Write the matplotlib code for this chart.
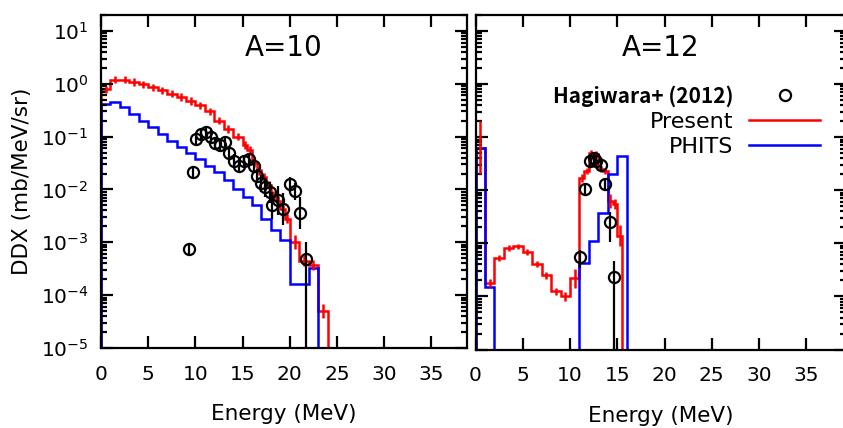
import numpy as np
import matplotlib.pyplot as plt
from matplotlib.ticker import LogLocator, NullFormatter, MultipleLocator
from matplotlib.lines import Line2D

# ---- A=10 ----
# present calculation (histogram, bin edges in MeV)
red10_edges = [0, 1, 2, 3, 4, 5, 6, 7, 8, 9, 10, 11, 12, 13, 14, 15,
               15.5, 16, 16.5, 17, 17.5, 18, 18.5, 19, 19.5, 20, 21, 22, 23, 24]
red10 = [0.78, 1.2, 1.2, 1.08, 0.97, 0.86, 0.75, 0.65, 0.56, 0.47, 0.39, 0.3,
         0.2, 0.14, 0.1, 0.07, 0.055, 0.032, 0.023, 0.017, 0.012, 0.0075,
         0.006, 0.0042, 0.0028, 0.001, 4.5e-4, 3.7e-4, 5e-5]
red10_err = [0.07] * 15 + [0.08] * 6 + [0.09] * 4 + [0.13, 0.11, 0.09, 0.14]

# PHITS
blue10_edges = list(range(0, 24))
blue10 = [0.41, 0.46, 0.36, 0.27, 0.2, 0.15, 0.11, 0.084, 0.063, 0.05, 0.038,
          0.028, 0.021, 0.015, 0.01, 0.0071, 0.005, 0.0028, 0.0017, 0.0011,
          1.6e-4, 1.6e-4, 3.3e-4]

# Hagiwara+ (2012)
hag10_e = [9.3, 9.7, 10.1, 10.6, 11.1, 11.6, 12.1, 12.6, 13.1, 13.6, 14.1,
           14.6, 15.2, 15.7, 16.2, 16.5, 16.9, 17.4, 17.9, 18.1, 18.8, 19.3,
           20.0, 20.5, 21.1, 21.7]
hag10 = [7.5e-4, 0.021, 0.09, 0.11, 0.12, 0.1, 0.075, 0.068, 0.078, 0.05,
         0.035, 0.028, 0.034, 0.037, 0.028, 0.018, 0.013, 0.011, 0.0089, 0.005,
         0.0062, 0.0043, 0.0125, 0.0092, 0.0036, 4.8e-4]
hag10_lo = [0.12, 0.12] + [0.12] * 12 + [0.13, 0.14, 0.16, 0.18, 0.2, 0.25,
                                         0.28, 0.3, 0.14, 0.16, 0.3, 3.0]
hag10_hi = [0.12, 0.12] + [0.12] * 12 + [0.13, 0.14, 0.16, 0.18, 0.2, 0.25,
                                         0.28, 0.3, 0.14, 0.16, 0.3, 0.33]

# ---- A=12 ----
red12_edges = [0, 1, 2, 3, 4, 5, 6, 7, 8, 9, 10, 11,
               11.5, 12, 12.5, 13, 13.5, 14, 14.5, 15, 15.5]
red12 = [0.063, 1.8e-4, 5.3e-4, 8.2e-4, 8.8e-4, 6.9e-4, 4.1e-4, 2.5e-4,
         1.25e-4, 1e-4, 2.2e-4, 0.017, 0.023, 0.05, 0.048, 0.025, 0.023,
         0.0062, 0.0055, 0.0014]
red12_err = [0.5, 0.07, 0.06, 0.05, 0.05, 0.05, 0.06, 0.07, 0.07, 0.08, 0.18,
             0.07, 0.06, 0.05, 0.05, 0.06, 0.06, 0.13, 0.1, 0.19]

blue12_edges = [0, 1, 2, 11, 12, 13, 14, 15, 16]
blue12 = [0.063, 1.5e-4, 0, 4.3e-4, 1.1e-3, 0.0037, 0.02, 0.044]

hag12_e = [11.1, 11.6, 12.1, 12.5, 12.8, 13.3, 13.7, 14.2, 14.7]
hag12 = [5.5e-4, 0.0105, 0.035, 0.04, 0.036, 0.03, 0.013, 0.0025, 2.3e-4]
hag12_lo = [0.21, 0.12, 0.11, 0.11, 0.11, 0.11, 0.12, 0.38, 3.0]
hag12_hi = [0.13, 0.12, 0.11, 0.11, 0.11, 0.11, 0.12, 0.19, 0.31]


def dec_err(y, lo, hi):
    # error half-lengths given in decades -> absolute yerr
    y = np.asarray(y, dtype=float)
    return [y - y * 10.0 ** (-np.asarray(lo)), y * 10.0 ** np.asarray(hi) - y]


def centers(edges):
    e = np.asarray(edges, dtype=float)
    return 0.5 * (e[:-1] + e[1:])


fig = plt.figure(figsize=(8.43, 4.28), dpi=100)
ax1 = fig.add_axes([101 / 843, 80 / 428, 366 / 843, 333 / 428])
ax2 = fig.add_axes([475.5 / 843, 78.5 / 428, 370 / 843, 334.5 / 428])

lw = 1.8
ms = 8

# A=10 panel
ax1.stairs(red10, red10_edges, baseline=0, color='red', lw=lw)
ax1.errorbar(centers(red10_edges), red10, yerr=dec_err(red10, red10_err, red10_err),
             fmt='none', ecolor='red', elinewidth=lw, capsize=0)
ax1.stairs(blue10, blue10_edges, baseline=0, color='blue', lw=lw)
ax1.errorbar(hag10_e, hag10, yerr=dec_err(hag10, hag10_lo, hag10_hi), fmt='o',
             mfc='none', mec='black', ecolor='black', ms=ms, mew=1.6,
             elinewidth=1.6, capsize=0, zorder=5)

# A=12 panel
ax2.stairs(red12, red12_edges, baseline=0, color='red', lw=lw)
ax2.errorbar(centers(red12_edges), red12, yerr=dec_err(red12, red12_err, red12_err),
             fmt='none', ecolor='red', elinewidth=lw, capsize=0)
ax2.stairs(blue12, blue12_edges, baseline=0, color='blue', lw=lw)
ax2.errorbar(hag12_e, hag12, yerr=dec_err(hag12, hag12_lo, hag12_hi), fmt='o',
             mfc='none', mec='black', ecolor='black', ms=ms, mew=1.6,
             elinewidth=1.6, capsize=0, zorder=5)

for ax, xmax, title in [(ax1, 38.77, 'A=10'), (ax2, 39.15, 'A=12')]:
    ax.set_yscale('log')
    ax.set_ylim(1e-5, 20)
    ax.set_xlim(0, xmax)
    ax.xaxis.set_major_locator(MultipleLocator(5))
    ax.yaxis.set_major_locator(LogLocator(base=10, numticks=20))
    ax.yaxis.set_minor_locator(LogLocator(base=10, subs=np.arange(2, 10), numticks=20))
    ax.yaxis.set_minor_formatter(NullFormatter())
    ax.tick_params(which='both', direction='in', top=True, right=True, width=1.6)
    ax.tick_params(which='major', length=8.5)
    ax.tick_params(which='minor', length=4.5)
    ax.tick_params(axis='x', labelsize=14.5, pad=12)
    ax.tick_params(axis='y', labelsize=14.5, pad=9)
    for s in ax.spines.values():
        s.set_linewidth(1.6)
    ax.set_xlabel('Energy (MeV)', fontsize=15.5)
    ax.xaxis.set_label_coords(0.5, -0.168)
    ax.text(0.5, 0.90, title, transform=ax.transAxes, ha='center', va='center',
            fontsize=20)

ax2.tick_params(axis='y', labelleft=False)
ax1.set_ylabel('DDX (mb/MeV/sr)', fontsize=15.5)
ax1.yaxis.set_label_coords(-0.189, 0.5)

handles = [Line2D([], [], ls='none', marker='o', mfc='none', mec='black', mew=1.6, ms=ms),
           Line2D([], [], color='red', lw=lw),
           Line2D([], [], color='blue', lw=lw)]
leg = ax2.legend(handles, ['Hagiwara+ (2012)', 'Present', 'PHITS'],
                 loc='upper right', bbox_to_anchor=(0.932, 0.791), frameon=False,
                 markerfirst=False, fontsize=16, handlelength=3.2,
                 handletextpad=0.7, labelspacing=0.23, borderpad=0, borderaxespad=0)
hag_label = leg.get_texts()[0]
hag_label.set_fontfamily(['Noto Sans CJK JP', 'DejaVu Sans'])
hag_label.set_fontweight('bold')
hag_label.set_fontsize(15)

fig.savefig('out.png', dpi=100)
